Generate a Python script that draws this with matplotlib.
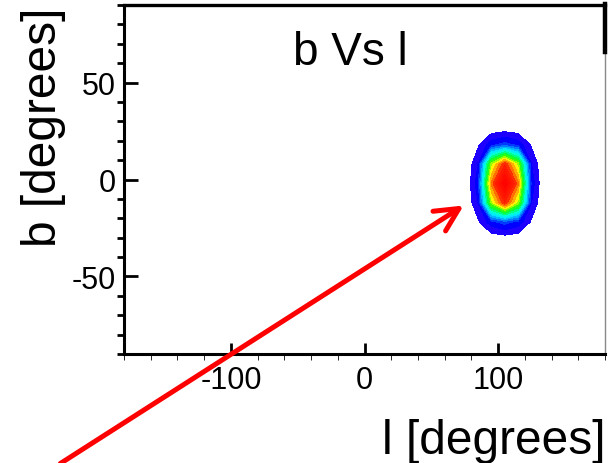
import numpy as np
import matplotlib
matplotlib.use("Agg")
import matplotlib.pyplot as plt
from matplotlib.colors import LinearSegmentedColormap
from matplotlib.lines import Line2D

plt.rcParams['font.family'] = ['Liberation Sans', 'DejaVu Sans']
plt.rcParams['axes.unicode_minus'] = False

# bin centres of the 2D histogram (degrees)
l_bins = [65, 75, 85, 95, 105, 115, 125, 135, 145]
b_bins = [-42, -32, -22, -12, -2, 8, 18, 28, 38]
# counts, rows follow b_bins, columns follow l_bins
counts = [
    [0, 0, 0, 0, 0, 0, 0, 0, 0],
    [0, 0, 0, 0, 0, 0, 0, 0, 0],
    [0, 0, 5, 14, 18, 14, 5, 0, 0],
    [0, 0, 11, 58, 80, 58, 11, 0, 0],
    [0, 0, 14, 72, 100, 72, 14, 0, 0],
    [0, 0, 11, 58, 80, 58, 11, 0, 0],
    [0, 0, 5, 14, 18, 14, 5, 0, 0],
    [0, 0, 0, 0, 0, 0, 0, 0, 0],
    [0, 0, 0, 0, 0, 0, 0, 0, 0],
]

x_major = [-100, 0, 100]
y_major = [-50, 0, 50]

# ROOT like rainbow palette
pal = LinearSegmentedColormap.from_list("rootpal", [
    (0.0, "#2a00ff"), (0.08, "#0000ff"), (0.25, "#00c8ff"), (0.32, "#00ffff"),
    (0.44, "#00ff40"), (0.52, "#40ff00"), (0.6, "#ffff00"), (0.7, "#ff8000"),
    (0.78, "#ff2000"), (1.0, "#ff0000")])

fig = plt.figure(figsize=(6.08, 4.64), dpi=100)
ax = fig.add_axes([124/608, 1-355/464, 481/608, 349/464])

L, B = np.meshgrid(l_bins, b_bins)
lev = np.linspace(6, 100.5, 20)
ax.contourf(L, B, np.array(counts, dtype=float), levels=lev, cmap=pal, vmin=6, vmax=100)

ax.set_xlim(-180, 180)
ax.set_ylim(-90, 90)
ax.set_xticks(x_major)
ax.set_xticks(np.arange(-180, 181, 20), minor=True)
ax.set_yticks(y_major)
ax.set_yticks(np.arange(-90, 91, 10), minor=True)
ax.tick_params(axis='both', direction='in', labelsize=22, width=2, colors='black')
ax.tick_params(axis='x', which='major', length=8, pad=8)
ax.tick_params(axis='x', which='minor', length=4)
ax.tick_params(axis='y', which='major', length=10, pad=6)
ax.tick_params(axis='y', which='minor', length=5, width=2)
ax.tick_params(top=False, right=False, which='both')

for s in ['left', 'bottom']:
    ax.spines[s].set_linewidth(2.2)
ax.spines['top'].set_linewidth(2.4)
ax.spines['right'].set_linewidth(1.0)
ax.spines['right'].set_color('#888888')

# thick piece of the border at the top right
fig.add_artist(Line2D([605/608, 605/608], [1-5/464, 1-53/464], color='black', lw=3.2,
                      transform=fig.transFigure))

fig.text(350/608, 1-65/464, "b Vs l", ha='center', va='baseline', fontsize=33)
fig.text(606/608, 10/464, "l [degrees]", ha='right', va='baseline', fontsize=34.5)
fig.text(21/608, 1-8/464, "b [degrees]", ha='right', va='top', rotation=90,
         rotation_mode='anchor', fontsize=34.5)

ax.annotate("", xy=(466, 464-205), xycoords='figure pixels',
            xytext=(58, -2), textcoords='figure pixels',
            arrowprops=dict(arrowstyle='->,head_length=0.7,head_width=0.35',
                            color='red', lw=3.6, mutation_scale=24),
            annotation_clip=False)

fig.savefig("out.png", dpi=100)
